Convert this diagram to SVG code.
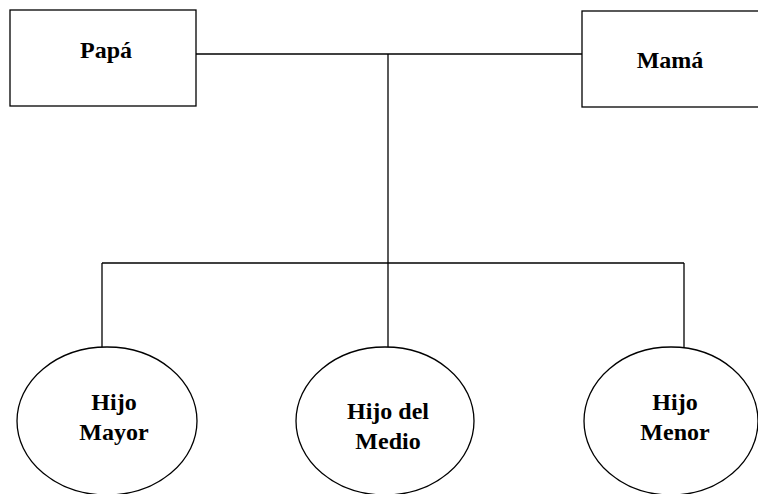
<svg xmlns="http://www.w3.org/2000/svg" width="758" height="494" viewBox="0 0 758 494">
<style>
.box{fill:#fff;stroke:#000;stroke-width:1.3}
.conn{fill:none;stroke:#000;stroke-width:1.3}
.t{font-family:"Liberation Serif","Times New Roman",serif;font-weight:bold;font-size:24px;fill:#000;text-anchor:middle}
</style>
<rect width="758" height="494" fill="#fff"/>
<g id="connectors">
<path class="conn" d="M196 54H582"/>
<path class="conn" d="M388 54V348"/>
<path class="conn" d="M102 263H684"/>
<path class="conn" d="M102 263V348"/>
<path class="conn" d="M684 263V357"/>
</g>
<g id="papa">
<rect class="box" x="10" y="10" width="186" height="96"/>
<text class="t" x="106" y="58">Papá</text>
</g>
<g id="mama">
<rect class="box" x="582" y="11" width="190" height="96"/>
<text class="t" x="670" y="68">Mamá</text>
</g>
<g id="hijo-mayor">
<ellipse class="box" cx="107" cy="421" rx="90" ry="74"/>
<text class="t" x="114" y="410">Hijo</text>
<text class="t" x="114" y="440">Mayor</text>
</g>
<g id="hijo-del-medio">
<ellipse class="box" cx="385" cy="421" rx="89" ry="74"/>
<text class="t" x="388" y="419">Hijo del</text>
<text class="t" x="388" y="449">Medio</text>
</g>
<g id="hijo-menor">
<ellipse class="box" cx="671" cy="421" rx="87" ry="74"/>
<text class="t" x="675" y="410">Hijo</text>
<text class="t" x="675" y="440">Menor</text>
</g>
</svg>
